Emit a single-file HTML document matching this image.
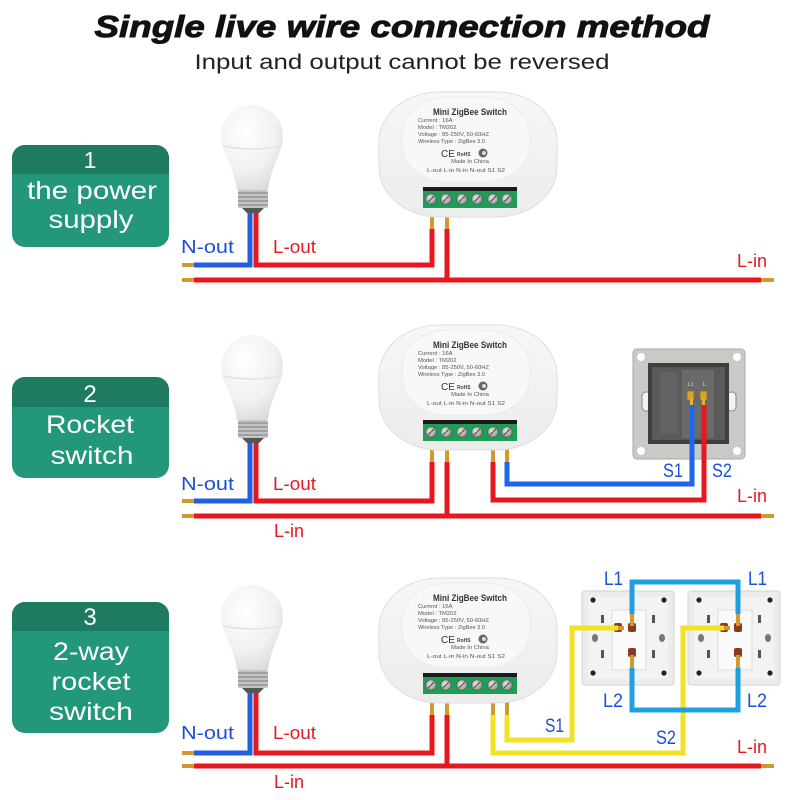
<!DOCTYPE html>
<html><head><meta charset="utf-8"><style>
html,body{margin:0;padding:0;background:#fff;}
svg{display:block;}
text{font-family:"Liberation Sans",sans-serif;}
</style></head><body>
<svg width="800" height="800" viewBox="0 0 800 800" xmlns="http://www.w3.org/2000/svg">
<defs>
<radialGradient id="bulbg" cx="0.4" cy="0.3" r="0.8">
<stop offset="0" stop-color="#ffffff"/><stop offset="0.6" stop-color="#f1f1f1"/><stop offset="1" stop-color="#d6d6d6"/>
</radialGradient>
<linearGradient id="modg" x1="0" y1="0" x2="0" y2="1">
<stop offset="0" stop-color="#f7f7f7"/><stop offset="1" stop-color="#ececec"/>
</linearGradient>
<radialGradient id="screwg" cx="0.4" cy="0.4" r="0.7">
<stop offset="0" stop-color="#e8e8e8"/><stop offset="1" stop-color="#8a8a8a"/>
</radialGradient>
</defs>
<rect width="800" height="800" fill="#fff"/>

<!-- Title -->
<text x="402" y="37" text-anchor="middle" font-size="31" font-weight="bold" font-style="italic" fill="#111" stroke="#111" stroke-width="0.9" textLength="615" lengthAdjust="spacingAndGlyphs">Single live wire connection method</text>
<text x="402" y="69" text-anchor="middle" font-size="21" fill="#222" textLength="415" lengthAdjust="spacingAndGlyphs">Input and output cannot be reversed</text>

<!-- Boxes -->
<g>
<rect x="12" y="145" width="157" height="102" rx="13" fill="#23977a"/>
<path d="M12,174 V158 A13,13 0 0 1 25,145 H156 A13,13 0 0 1 169,158 V174 Z" fill="#1e7a60"/>
<text x="90" y="168" text-anchor="middle" font-size="23" fill="#fff">1</text>
<text x="92" y="199" text-anchor="middle" font-size="25" fill="#fff" textLength="130" lengthAdjust="spacingAndGlyphs">the power</text>
<text x="91" y="228" text-anchor="middle" font-size="25" fill="#fff" textLength="85" lengthAdjust="spacingAndGlyphs">supply</text>
</g>
<g>
<rect x="12" y="377" width="157" height="101" rx="13" fill="#23977a"/>
<path d="M12,407 V390 A13,13 0 0 1 25,377 H156 A13,13 0 0 1 169,390 V407 Z" fill="#1e7a60"/>
<text x="90" y="402" text-anchor="middle" font-size="24" fill="#fff">2</text>
<text x="90" y="433" text-anchor="middle" font-size="25" fill="#fff" textLength="88" lengthAdjust="spacingAndGlyphs">Rocket</text>
<text x="92" y="464" text-anchor="middle" font-size="25" fill="#fff" textLength="83" lengthAdjust="spacingAndGlyphs">switch</text>
</g>
<g>
<rect x="12" y="602" width="157" height="131" rx="13" fill="#23977a"/>
<path d="M12,631 V615 A13,13 0 0 1 25,602 H156 A13,13 0 0 1 169,615 V631 Z" fill="#1e7a60"/>
<text x="90" y="625" text-anchor="middle" font-size="24" fill="#fff">3</text>
<text x="91" y="660" text-anchor="middle" font-size="25" fill="#fff" textLength="76" lengthAdjust="spacingAndGlyphs">2-way</text>
<text x="91" y="690" text-anchor="middle" font-size="25" fill="#fff" textLength="79" lengthAdjust="spacingAndGlyphs">rocket</text>
<text x="91" y="720" text-anchor="middle" font-size="25" fill="#fff" textLength="84" lengthAdjust="spacingAndGlyphs">switch</text>
</g>

<!-- Section 2 rocker switch -->
<g>
<rect x="633" y="349" width="112" height="110" rx="4" fill="#c9c9c5" stroke="#a9a9a5"/>
<circle cx="641" cy="357" r="4" fill="#fff"/><circle cx="737" cy="357" r="4" fill="#fff"/>
<circle cx="641" cy="451" r="4" fill="#fff"/><circle cx="737" cy="451" r="4" fill="#fff"/>
<rect x="642" y="392" width="9" height="19" rx="4" fill="#f2f2f2" stroke="#888"/>
<rect x="727" y="392" width="9" height="19" rx="4" fill="#f2f2f2" stroke="#888"/>
<rect x="648" y="363" width="81" height="81" fill="#3e3e3e"/>
<rect x="652" y="367" width="73" height="73" fill="#5a5a5a"/>
<rect x="682" y="370" width="32" height="68" fill="#6a6a6a"/>
<rect x="660" y="372" width="18" height="62" fill="#626262"/>
<text x="688" y="386" font-size="5" fill="#ddd">L1</text>
<text x="703" y="386" font-size="5" fill="#ddd">L</text>
<rect x="687" y="391" width="7" height="9" fill="#d9a22a" stroke="#9a6a10" stroke-width="0.8"/>
<rect x="700" y="391" width="7" height="9" fill="#d9a22a" stroke="#9a6a10" stroke-width="0.8"/>
<rect x="690" y="398" width="3" height="8" fill="#e0b040"/>
<rect x="702" y="398" width="3" height="8" fill="#e0b040"/>
</g>

<!-- Section 3 plates -->
<g id="plate1">
<rect x="582" y="591" width="92" height="94" rx="3" fill="#ececec" stroke="#d2d2d2"/>
<rect x="588" y="597" width="80" height="82" fill="#f3f3f3"/>
<rect x="612" y="610" width="34" height="60" fill="#fafafa" stroke="#dcdcdc"/>
<circle cx="593" cy="600" r="2.6" fill="#222"/><circle cx="664" cy="600" r="2.6" fill="#222"/>
<circle cx="593" cy="673" r="2.6" fill="#222"/><circle cx="664" cy="673" r="2.6" fill="#222"/>
<ellipse cx="595" cy="638" rx="3" ry="4" fill="#777"/><ellipse cx="662" cy="638" rx="3" ry="4" fill="#777"/>
<rect x="601" y="615" width="3" height="8" fill="#555"/><rect x="652" y="615" width="3" height="8" fill="#555"/>
<rect x="601" y="650" width="3" height="8" fill="#555"/><rect x="652" y="650" width="3" height="8" fill="#555"/>
<rect x="614" y="623" width="8" height="9" rx="2" fill="#8a3a20"/>
<rect x="628" y="623" width="8" height="9" rx="2" fill="#8a3a20"/>
<rect x="628" y="648" width="8" height="9" rx="2" fill="#8a3a20"/>
</g>
<g transform="translate(106,0)">
<rect x="582" y="591" width="92" height="94" rx="3" fill="#ececec" stroke="#d2d2d2"/>
<rect x="588" y="597" width="80" height="82" fill="#f3f3f3"/>
<rect x="612" y="610" width="34" height="60" fill="#fafafa" stroke="#dcdcdc"/>
<circle cx="593" cy="600" r="2.6" fill="#222"/><circle cx="664" cy="600" r="2.6" fill="#222"/>
<circle cx="593" cy="673" r="2.6" fill="#222"/><circle cx="664" cy="673" r="2.6" fill="#222"/>
<ellipse cx="595" cy="638" rx="3" ry="4" fill="#777"/><ellipse cx="662" cy="638" rx="3" ry="4" fill="#777"/>
<rect x="601" y="615" width="3" height="8" fill="#555"/><rect x="652" y="615" width="3" height="8" fill="#555"/>
<rect x="601" y="650" width="3" height="8" fill="#555"/><rect x="652" y="650" width="3" height="8" fill="#555"/>
<rect x="614" y="623" width="8" height="9" rx="2" fill="#8a3a20"/>
<rect x="628" y="623" width="8" height="9" rx="2" fill="#8a3a20"/>
<rect x="628" y="648" width="8" height="9" rx="2" fill="#8a3a20"/>
</g>

<!-- Copper tips -->
<g fill="#d29a2c">
<rect x="182" y="263" width="12" height="4"/><rect x="182" y="278" width="12" height="4"/><rect x="761" y="278" width="13" height="4"/>
<rect x="182" y="499" width="12" height="4"/><rect x="182" y="514" width="12" height="4"/><rect x="761" y="514" width="13" height="4"/>
<rect x="182" y="751" width="12" height="4"/><rect x="182" y="764" width="12" height="4"/><rect x="761" y="764" width="13" height="4"/>
<rect x="430" y="216" width="4" height="13"/><rect x="445" y="216" width="4" height="13"/>
<rect x="430" y="449" width="4" height="13"/><rect x="445" y="449" width="4" height="13"/>
<rect x="491" y="449" width="4" height="13"/><rect x="505" y="449" width="4" height="13"/>
<rect x="430" y="702" width="4" height="13"/><rect x="445" y="702" width="4" height="13"/>
<rect x="491" y="702" width="4" height="13"/><rect x="505" y="702" width="4" height="13"/>
<rect x="630" y="614" width="4" height="12"/><rect x="736" y="614" width="4" height="12"/>
<rect x="630" y="655" width="4" height="13"/><rect x="736" y="655" width="4" height="13"/>
<rect x="618" y="626" width="6" height="4"/><rect x="724" y="626" width="6" height="4"/>
</g>

<!-- Wires -->
<g fill="none" stroke-width="5" stroke-linejoin="miter" stroke-linecap="butt">
<path d="M194,265 H250 V210" stroke="#1f5fe2"/>
<path d="M256,210 V265 H432 V229" stroke="#e8161e"/>
<path d="M194,280 H761" stroke="#e8161e"/>
<path d="M447,229 V280" stroke="#e8161e"/>
<path d="M194,501 H250 V440" stroke="#1f5fe2"/>
<path d="M256,440 V501 H432 V462" stroke="#e8161e"/>
<path d="M194,516 H761" stroke="#e8161e"/>
<path d="M447,462 V516" stroke="#e8161e"/>
<path d="M493,462 V500 H704 V405" stroke="#e8161e"/>
<path d="M507,462 V484 H692 V405" stroke="#1e66ee"/>
<path d="M194,753 H250 V690" stroke="#1f5fe2"/>
<path d="M256,690 V753 H432 V715" stroke="#e8161e"/>
<path d="M194,766 H761" stroke="#e8161e"/>
<path d="M447,715 V766" stroke="#e8161e"/>
<path d="M507,715 V740 H572 V628 H618" stroke="#f1e324"/>
<path d="M493,715 V753 H683 V628 H724" stroke="#f1e324"/>
<path d="M632,614 V582 H738 V614" stroke="#1ea0e0"/>
<path d="M632,668 V710 H738 V668" stroke="#1ea0e0"/>
</g>

<!-- Bulbs -->
<g id="bulb1">
<path d="M221,136 A31,31 0 0 1 283,136 C283,152 271,166 268,190 L237,190 C234,166 221,152 221,136 Z" fill="url(#bulbg)"/>
<path d="M223,146 Q252,152 281,146" fill="none" stroke="#e2e2e2" stroke-width="1.5"/>
<rect x="238" y="190" width="30" height="18" rx="2" fill="#c4c4c4"/>
<g stroke="#8a8a8a" stroke-width="1.3"><line x1="238" y1="193" x2="268" y2="193"/><line x1="238" y1="197" x2="268" y2="197"/><line x1="238" y1="201" x2="268" y2="201"/><line x1="238" y1="205" x2="268" y2="205"/></g>
<path d="M242,208 L264,208 L259,213 L247,213 Z" fill="#555"/>
</g>
<g transform="translate(0,230)">
<path d="M221,136 A31,31 0 0 1 283,136 C283,152 271,166 268,190 L237,190 C234,166 221,152 221,136 Z" fill="url(#bulbg)"/>
<path d="M223,146 Q252,152 281,146" fill="none" stroke="#e2e2e2" stroke-width="1.5"/>
<rect x="238" y="190" width="30" height="18" rx="2" fill="#c4c4c4"/>
<g stroke="#8a8a8a" stroke-width="1.3"><line x1="238" y1="193" x2="268" y2="193"/><line x1="238" y1="197" x2="268" y2="197"/><line x1="238" y1="201" x2="268" y2="201"/><line x1="238" y1="205" x2="268" y2="205"/></g>
<path d="M242,208 L264,208 L259,213 L247,213 Z" fill="#555"/>
</g>
<g transform="translate(0,480)">
<path d="M221,136 A31,31 0 0 1 283,136 C283,152 271,166 268,190 L237,190 C234,166 221,152 221,136 Z" fill="url(#bulbg)"/>
<path d="M223,146 Q252,152 281,146" fill="none" stroke="#e2e2e2" stroke-width="1.5"/>
<rect x="238" y="190" width="30" height="18" rx="2" fill="#c4c4c4"/>
<g stroke="#8a8a8a" stroke-width="1.3"><line x1="238" y1="193" x2="268" y2="193"/><line x1="238" y1="197" x2="268" y2="197"/><line x1="238" y1="201" x2="268" y2="201"/><line x1="238" y1="205" x2="268" y2="205"/></g>
<path d="M242,208 L264,208 L259,213 L247,213 Z" fill="#555"/>
</g>

<!-- Modules -->
<g id="mod1">
<rect x="379" y="92" width="178" height="125" rx="60" ry="50" fill="url(#modg)" stroke="#dedede"/>
<rect x="402" y="97" width="128" height="85" rx="45" ry="38" fill="#f8f8f8" stroke="#ebebeb"/>
<text x="470" y="115" text-anchor="middle" font-size="9" font-weight="bold" fill="#333" textLength="74" lengthAdjust="spacingAndGlyphs">Mini ZigBee Switch</text>
<g font-size="5.8" fill="#555">
<text x="418" y="122">Current :  16A</text>
<text x="418" y="129">Model :  TM202</text>
<text x="418" y="136" textLength="71" lengthAdjust="spacingAndGlyphs">Voltage :  85-250V, 50-60HZ</text>
<text x="418" y="143" textLength="67" lengthAdjust="spacingAndGlyphs">Wireless Type :  ZigBee 3.0</text>
<text x="470" y="163" text-anchor="middle">Made In China</text>
<text x="427" y="172" textLength="78" lengthAdjust="spacingAndGlyphs">L-out  L-in  N-in  N-out  S1    S2</text>
</g>
<text x="441" y="157" font-size="10" fill="#333">CE</text>
<text x="457" y="156" font-size="5" font-weight="bold" fill="#444">RoHS</text>
<circle cx="483" cy="153" r="4.5" fill="#666"/><circle cx="484" cy="153" r="2" fill="#ddd"/>
<rect x="423" y="187" width="94" height="21" fill="#1f9c55"/>
<rect x="423" y="187" width="94" height="4" fill="#1a1a1a"/>
<g fill="url(#screwg)" stroke="#555" stroke-width="0.6">
<circle cx="431" cy="199" r="5.2"/><circle cx="446" cy="199" r="5.2"/><circle cx="462" cy="199" r="5.2"/>
<circle cx="477" cy="199" r="5.2"/><circle cx="493" cy="199" r="5.2"/><circle cx="507" cy="199" r="5.2"/>
</g>
<g stroke="#444" stroke-width="1">
<line x1="428" y1="202" x2="434" y2="196"/><line x1="443" y1="202" x2="449" y2="196"/><line x1="459" y1="202" x2="465" y2="196"/>
<line x1="474" y1="202" x2="480" y2="196"/><line x1="490" y1="202" x2="496" y2="196"/><line x1="504" y1="202" x2="510" y2="196"/>
</g>
</g>
<g transform="translate(0,233)">
<rect x="379" y="92" width="178" height="125" rx="60" ry="50" fill="url(#modg)" stroke="#dedede"/>
<rect x="402" y="97" width="128" height="85" rx="45" ry="38" fill="#f8f8f8" stroke="#ebebeb"/>
<text x="470" y="115" text-anchor="middle" font-size="9" font-weight="bold" fill="#333" textLength="74" lengthAdjust="spacingAndGlyphs">Mini ZigBee Switch</text>
<g font-size="5.8" fill="#555">
<text x="418" y="122">Current :  16A</text>
<text x="418" y="129">Model :  TM202</text>
<text x="418" y="136" textLength="71" lengthAdjust="spacingAndGlyphs">Voltage :  85-250V, 50-60HZ</text>
<text x="418" y="143" textLength="67" lengthAdjust="spacingAndGlyphs">Wireless Type :  ZigBee 3.0</text>
<text x="470" y="163" text-anchor="middle">Made In China</text>
<text x="427" y="172" textLength="78" lengthAdjust="spacingAndGlyphs">L-out  L-in  N-in  N-out  S1    S2</text>
</g>
<text x="441" y="157" font-size="10" fill="#333">CE</text>
<text x="457" y="156" font-size="5" font-weight="bold" fill="#444">RoHS</text>
<circle cx="483" cy="153" r="4.5" fill="#666"/><circle cx="484" cy="153" r="2" fill="#ddd"/>
<rect x="423" y="187" width="94" height="21" fill="#1f9c55"/>
<rect x="423" y="187" width="94" height="4" fill="#1a1a1a"/>
<g fill="url(#screwg)" stroke="#555" stroke-width="0.6">
<circle cx="431" cy="199" r="5.2"/><circle cx="446" cy="199" r="5.2"/><circle cx="462" cy="199" r="5.2"/>
<circle cx="477" cy="199" r="5.2"/><circle cx="493" cy="199" r="5.2"/><circle cx="507" cy="199" r="5.2"/>
</g>
<g stroke="#444" stroke-width="1">
<line x1="428" y1="202" x2="434" y2="196"/><line x1="443" y1="202" x2="449" y2="196"/><line x1="459" y1="202" x2="465" y2="196"/>
<line x1="474" y1="202" x2="480" y2="196"/><line x1="490" y1="202" x2="496" y2="196"/><line x1="504" y1="202" x2="510" y2="196"/>
</g>
</g>
<g transform="translate(0,486)">
<rect x="379" y="92" width="178" height="125" rx="60" ry="50" fill="url(#modg)" stroke="#dedede"/>
<rect x="402" y="97" width="128" height="85" rx="45" ry="38" fill="#f8f8f8" stroke="#ebebeb"/>
<text x="470" y="115" text-anchor="middle" font-size="9" font-weight="bold" fill="#333" textLength="74" lengthAdjust="spacingAndGlyphs">Mini ZigBee Switch</text>
<g font-size="5.8" fill="#555">
<text x="418" y="122">Current :  16A</text>
<text x="418" y="129">Model :  TM202</text>
<text x="418" y="136" textLength="71" lengthAdjust="spacingAndGlyphs">Voltage :  85-250V, 50-60HZ</text>
<text x="418" y="143" textLength="67" lengthAdjust="spacingAndGlyphs">Wireless Type :  ZigBee 3.0</text>
<text x="470" y="163" text-anchor="middle">Made In China</text>
<text x="427" y="172" textLength="78" lengthAdjust="spacingAndGlyphs">L-out  L-in  N-in  N-out  S1    S2</text>
</g>
<text x="441" y="157" font-size="10" fill="#333">CE</text>
<text x="457" y="156" font-size="5" font-weight="bold" fill="#444">RoHS</text>
<circle cx="483" cy="153" r="4.5" fill="#666"/><circle cx="484" cy="153" r="2" fill="#ddd"/>
<rect x="423" y="187" width="94" height="21" fill="#1f9c55"/>
<rect x="423" y="187" width="94" height="4" fill="#1a1a1a"/>
<g fill="url(#screwg)" stroke="#555" stroke-width="0.6">
<circle cx="431" cy="199" r="5.2"/><circle cx="446" cy="199" r="5.2"/><circle cx="462" cy="199" r="5.2"/>
<circle cx="477" cy="199" r="5.2"/><circle cx="493" cy="199" r="5.2"/><circle cx="507" cy="199" r="5.2"/>
</g>
<g stroke="#444" stroke-width="1">
<line x1="428" y1="202" x2="434" y2="196"/><line x1="443" y1="202" x2="449" y2="196"/><line x1="459" y1="202" x2="465" y2="196"/>
<line x1="474" y1="202" x2="480" y2="196"/><line x1="490" y1="202" x2="496" y2="196"/><line x1="504" y1="202" x2="510" y2="196"/>
</g>
</g>

<!-- Labels -->
<g font-size="18">
<text x="181" y="253" fill="#1b4fd6" textLength="53" lengthAdjust="spacingAndGlyphs">N-out</text>
<text x="273" y="253" fill="#e5191f" textLength="43" lengthAdjust="spacingAndGlyphs">L-out</text>
<text x="737" y="267" fill="#e5191f" textLength="30" lengthAdjust="spacingAndGlyphs">L-in</text>
<text x="181" y="490" fill="#1b4fd6" textLength="53" lengthAdjust="spacingAndGlyphs">N-out</text>
<text x="273" y="490" fill="#e5191f" textLength="43" lengthAdjust="spacingAndGlyphs">L-out</text>
<text x="274" y="537" fill="#e5191f" textLength="30" lengthAdjust="spacingAndGlyphs">L-in</text>
<text x="737" y="502" fill="#e5191f" textLength="30" lengthAdjust="spacingAndGlyphs">L-in</text>
<text x="181" y="739" fill="#1b4fd6" textLength="53" lengthAdjust="spacingAndGlyphs">N-out</text>
<text x="273" y="739" fill="#e5191f" textLength="43" lengthAdjust="spacingAndGlyphs">L-out</text>
<text x="274" y="788" fill="#e5191f" textLength="30" lengthAdjust="spacingAndGlyphs">L-in</text>
<text x="737" y="753" fill="#e5191f" textLength="30" lengthAdjust="spacingAndGlyphs">L-in</text>
</g>
<g font-size="19" fill="#1b4fd6">
<text x="663" y="477" textLength="20" lengthAdjust="spacingAndGlyphs">S1</text>
<text x="712" y="477" textLength="20" lengthAdjust="spacingAndGlyphs">S2</text>
<text x="604" y="585" textLength="19" lengthAdjust="spacingAndGlyphs">L1</text>
<text x="748" y="585" textLength="19" lengthAdjust="spacingAndGlyphs">L1</text>
<text x="603" y="707" textLength="20" lengthAdjust="spacingAndGlyphs">L2</text>
<text x="747" y="707" textLength="20" lengthAdjust="spacingAndGlyphs">L2</text>
<text x="545" y="732" textLength="19" lengthAdjust="spacingAndGlyphs">S1</text>
<text x="656" y="744" textLength="20" lengthAdjust="spacingAndGlyphs">S2</text>
</g>
</svg>
</body></html>
